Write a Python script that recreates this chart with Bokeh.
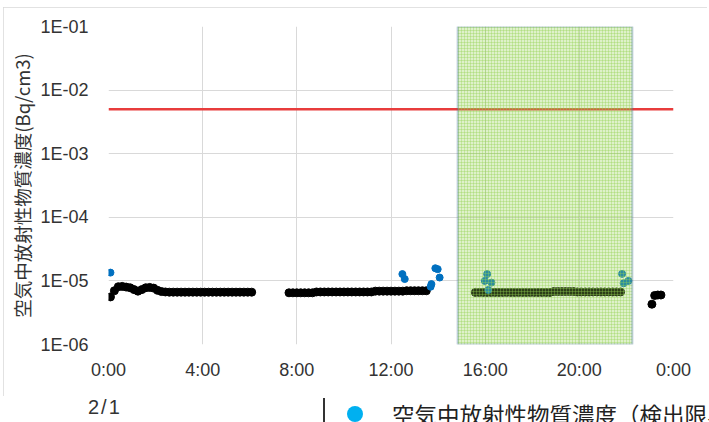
from bokeh.plotting import figure
from bokeh.layouts import column
from bokeh.models import (Range1d, FixedTicker, CustomJSTickFormatter, Span,
                          BoxAnnotation, Div)
from bokeh.embed import file_html
from bokeh.resources import INLINE


def hours(t):
    h, m = t.split(":")
    return int(h) + int(m) / 60.0


# ---------------- data ----------------
step_minutes = 10

# continuous measurement segments (value every 10 minutes from the start time)
segA_start = "0:05"
segA_values = [5.6e-6, 7.0e-6, 8.1e-6, 8.2e-6, 8.0e-6, 7.8e-6, 7.3e-6, 6.9e-6,
               7.3e-6, 7.8e-6, 7.9e-6, 7.7e-6, 7.1e-6, 6.8e-6, 6.7e-6,
               6.65e-6, 6.65e-6, 6.65e-6, 6.65e-6, 6.65e-6, 6.65e-6, 6.65e-6,
               6.65e-6, 6.65e-6, 6.65e-6, 6.65e-6, 6.65e-6, 6.65e-6, 6.65e-6,
               6.65e-6, 6.65e-6, 6.65e-6, 6.65e-6, 6.65e-6, 6.65e-6, 6.65e-6,
               6.65e-6]
segB_start = "7:40"
segB_values = [6.5e-6, 6.5e-6, 6.5e-6, 6.5e-6, 6.5e-6, 6.5e-6, 6.5e-6,
               6.7e-6, 6.7e-6, 6.7e-6, 6.7e-6, 6.7e-6, 6.7e-6, 6.7e-6, 6.7e-6,
               6.7e-6, 6.7e-6, 6.7e-6, 6.7e-6, 6.7e-6, 6.7e-6, 6.7e-6,
               6.9e-6, 6.9e-6, 6.9e-6, 6.9e-6, 6.9e-6, 6.9e-6, 6.9e-6, 6.9e-6,
               7.0e-6, 7.0e-6, 7.0e-6, 7.0e-6, 7.0e-6, 7.0e-6]
segC_start = "15:35"
segC_values = [6.6e-6, 6.6e-6, 6.6e-6, 6.6e-6, 6.6e-6, 6.6e-6, 6.6e-6, 6.6e-6,
               6.6e-6, 6.6e-6, 6.6e-6, 6.6e-6, 6.6e-6, 6.6e-6, 6.6e-6, 6.6e-6,
               6.6e-6, 6.6e-6, 6.6e-6, 6.6e-6,
               6.8e-6, 6.8e-6, 6.8e-6, 6.8e-6, 6.8e-6, 6.8e-6,
               6.7e-6, 6.7e-6, 6.7e-6, 6.7e-6, 6.7e-6, 6.7e-6, 6.7e-6, 6.7e-6,
               6.7e-6, 6.7e-6, 6.7e-6, 6.7e-6]
segD_times = ["23:05", "23:12", "23:20", "23:28"]
segD_values = [4.3e-6, 5.9e-6, 6.0e-6, 6.0e-6]

# points above the detection limit
detected_times = ["0:05", "12:29", "12:35", "13:41", "13:43", "13:53", "13:59",
                  "14:04", "15:59", "16:05", "16:08", "16:16", "21:49", "21:53",
                  "22:05"]
detected_values = [1.35e-5, 1.28e-5, 1.07e-5, 8.1e-6, 8.9e-6, 1.58e-5, 1.53e-5,
                   1.13e-5, 1.0e-5, 1.28e-5, 7.2e-6, 9.4e-6, 1.29e-5, 9.2e-6,
                   1.0e-5]

threshold = 5e-3
window_start = "14:50"
window_end = "22:15"

x_ticks = [0, 4, 8, 12, 16, 20, 24]
y_ticks = [1e-6, 1e-5, 1e-4, 1e-3, 1e-2, 1e-1]
date_label = "2/1"
y_title = "空気中放射性物質濃度(Bq/cm3)"
legend_text = "空気中放射性物質濃度（検出限界値以上）"

# ---------------- build ----------------
black_x, black_y = [], []
for start, vals in ((segA_start, segA_values), (segB_start, segB_values),
                    (segC_start, segC_values)):
    h0 = hours(start)
    for i, v in enumerate(vals):
        black_x.append(h0 + i * step_minutes / 60.0)
        black_y.append(v)
for t, v in zip(segD_times, segD_values):
    black_x.append(hours(t))
    black_y.append(v)

blue_x = [hours(t) for t in detected_times]

FONT = "Liberation Sans"
TXT = "#333333"

p = figure(y_axis_type="log",
           x_range=Range1d(0, 24), y_range=Range1d(1e-6, 1e-1),
           output_backend="svg", toolbar_location=None,
           min_border_left=105, min_border_right=34,
           min_border_top=19, min_border_bottom=52,
           frame_width=565, frame_height=318,
           margin=(7, 0, 0, 3),
           styles={"outline": "1px solid #d9d9d9", "outline-offset": "-1px"})
p.background_fill_color = "white"
p.border_fill_color = "white"
p.outline_line_color = None

p.xaxis.ticker = FixedTicker(ticks=x_ticks)
p.xaxis.formatter = CustomJSTickFormatter(code="return (tick % 24) + ':00';")
p.yaxis.ticker = FixedTicker(ticks=y_ticks, minor_ticks=[])
p.yaxis.formatter = CustomJSTickFormatter(
    code="const e = Math.round(-Math.log10(tick)); return '1E-' + String(e).padStart(2, '0');")
p.xgrid.ticker = FixedTicker(ticks=x_ticks)
p.ygrid.ticker = FixedTicker(ticks=y_ticks, minor_ticks=[])

for ax in (p.xaxis[0], p.yaxis[0]):
    ax.axis_line_color = None
    ax.major_tick_line_color = None
    ax.minor_tick_line_color = None
    ax.major_tick_out = 0
    ax.major_tick_in = 0
    ax.minor_tick_out = 0
    ax.major_label_text_font = FONT
    ax.major_label_text_font_size = "18px"
    ax.major_label_text_color = TXT
p.xaxis.major_label_standoff = 15
p.yaxis.major_label_standoff = 20
p.yaxis.axis_label = y_title
p.yaxis.axis_label_text_font = "Noto Sans CJK JP"
p.yaxis.axis_label_text_font_size = "18.5px"
p.yaxis.axis_label_text_font_style = "normal"
p.yaxis.axis_label_text_color = TXT
p.yaxis.axis_label_standoff = 2

for g in (p.xgrid[0], p.ygrid[0]):
    g.grid_line_color = "#d9d9d9"
    g.grid_line_width = 1

p.add_layout(Span(location=threshold, dimension="width", line_color="#e83c3c",
                  line_width=2.5, level="underlay"))

p.scatter(black_x, black_y, size=8, color="black")
p.scatter(blue_x, detected_values, size=7, color="#0070c0")

p.add_layout(BoxAnnotation(left=hours(window_start), right=hours(window_end),
                           fill_color="#92d050", fill_alpha=0.3,
                           hatch_pattern="+", hatch_scale=3, hatch_color="#92d050",
                           hatch_alpha=0.35, hatch_weight=1,
                           line_color="#3d6a9e", line_width=2.2))

# ---- strip below the chart: date and (partly visible) legend ----
strip_html = (
    '<div style="position:relative;width:709px;height:32px;overflow:hidden;">'
    f'<span style="position:absolute;left:88px;top:3px;font-family:\'Liberation Sans\';'
    f'font-size:20px;letter-spacing:2px;color:{TXT};white-space:nowrap;">{date_label}</span>'
    '<div style="position:absolute;left:323px;top:8px;width:2px;height:24px;background:#333333;"></div>'
    '<div style="position:absolute;left:347px;top:16px;width:16px;height:16px;border-radius:50%;background:#00b0f0;"></div>'
    f'<span style="position:absolute;left:392px;top:13px;font-family:\'Noto Sans CJK JP\';'
    f'font-size:22.5px;line-height:1;color:#222222;white-space:nowrap;">{legend_text}</span>'
    '</div>'
)
strip = Div(text=strip_html, width=709, height=32, margin=(-6, 0, 0, 0))

layout = column(p, strip, spacing=0)
open("out.html", "w").write(file_html(layout, INLINE))
